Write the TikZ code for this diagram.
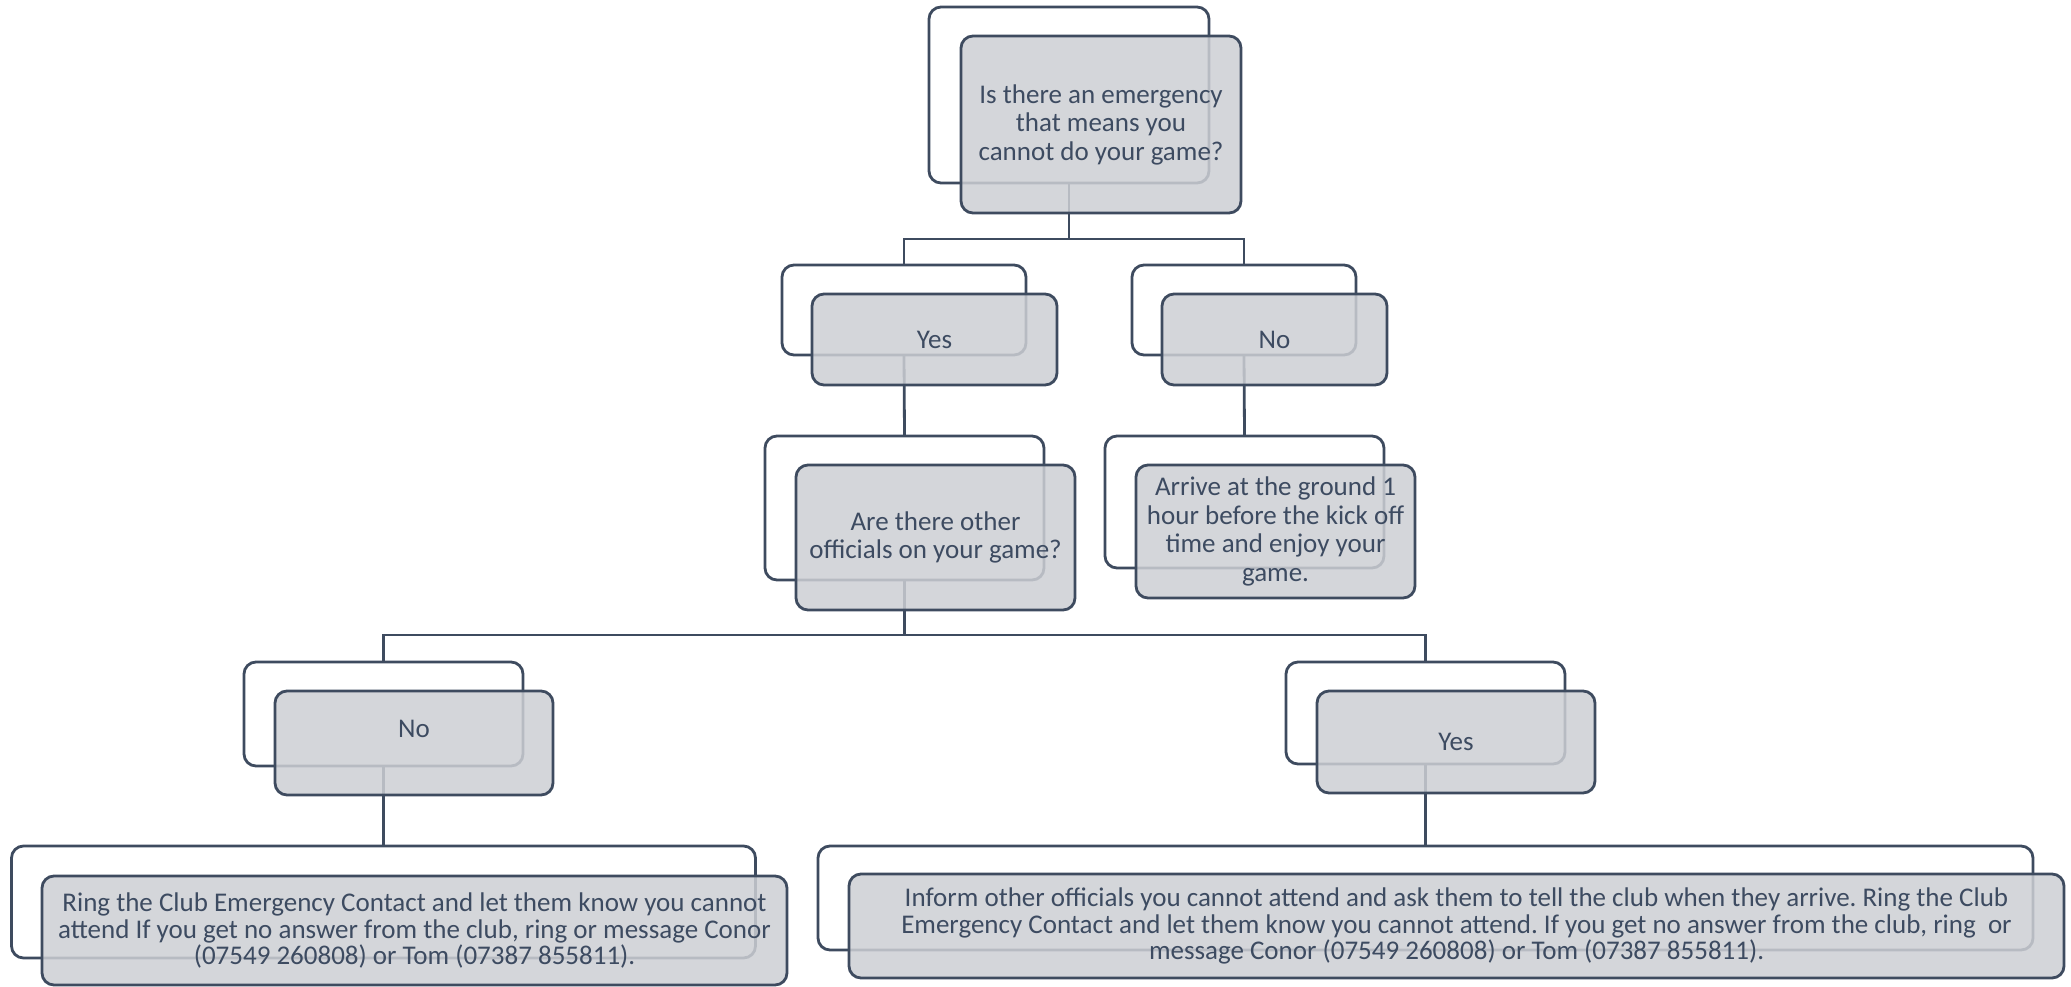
\documentclass[tikz,border=0pt]{standalone}
\usepackage{fontspec}
\setmainfont{Carlito}
\frenchspacing
\definecolor{ln}{HTML}{3E4B5F}
\definecolor{txt}{HTML}{3D4B61}
\definecolor{gf}{RGB}{205,207,212}
\tikzset{
  obox/.style={rectangle, draw=ln, line width=2.8pt, fill=white, rounded corners=12pt, inner sep=0pt, outer sep=0pt},
  gbox/.style={rectangle, draw=ln, line width=2.8pt, fill=gf, fill opacity=0.85, rounded corners=12pt, inner sep=0pt, outer sep=0pt},
  lbl/.style={text=txt, align=center, inner sep=0pt, font=\fontsize{27}{28.5}\selectfont},
  lblsm/.style={lbl, font=\fontsize{27}{26.5}\selectfont},
  conn/.style={draw=ln, line width=2.8pt}
}
\begin{document}
\begin{tikzpicture}[x=1pt,y=-1pt]
\useasboundingbox (0,0) rectangle (2071,986);
% outline boxes
\node[obox, minimum width=280pt, minimum height=176pt] (o1) at (1069,95) {};
\node[obox, minimum width=244pt, minimum height=90pt] (o2y) at (904,310) {};
\node[obox, minimum width=224pt, minimum height=90pt] (o2n) at (1244,310) {};
\node[obox, minimum width=279pt, minimum height=144pt] (o3a) at (904.5,508) {};
\node[obox, minimum width=279pt, minimum height=132pt] (o3b) at (1244.5,502) {};
\node[obox, minimum width=279pt, minimum height=104pt] (o4n) at (383.5,714) {};
\node[obox, minimum width=279pt, minimum height=102pt] (o4y) at (1425.5,713) {};
\node[obox, minimum width=744pt, minimum height=112pt] (o5l) at (383.5,902) {};
\node[obox, minimum width=1215pt, minimum height=104pt] (o5r) at (1425.5,898) {};
% connectors
\coordinate (b1) at (1069,239);
\coordinate (b2) at (904.5,635);
\draw[conn] (o1.south) -- (b1) -| (o2y.north);
\draw[conn] (b1) -| (o2n.north);
\draw[conn] (o2y.south) -- (o3a.north);
\draw[conn] (o2n.south) -- (o3b.north);
\draw[conn] (o3a.south) -- (b2) -| (o4n.north);
\draw[conn] (b2) -| (o4y.north);
\draw[conn] (o4n.south) -- (o5l.north);
\draw[conn] (o4y.south) -- (o5r.north);
% grey boxes
\node[gbox, minimum width=280pt, minimum height=177pt] (g1) at (1101,124.5) {};
\node[gbox, minimum width=245pt, minimum height=91pt] (g2y) at (934.5,339.5) {};
\node[gbox, minimum width=225pt, minimum height=91pt] (g2n) at (1274.5,339.5) {};
\node[gbox, minimum width=279pt, minimum height=145pt] (g3a) at (935.5,537.5) {};
\node[gbox, minimum width=279pt, minimum height=133pt] (g3b) at (1275.5,531.5) {};
\node[gbox, minimum width=278pt, minimum height=104pt] (g4n) at (414,743) {};
\node[gbox, minimum width=278pt, minimum height=102pt] (g4y) at (1456,742) {};
\node[gbox, minimum width=745pt, minimum height=109pt] (g5l) at (414.5,930.5) {};
\node[gbox, minimum width=1215pt, minimum height=104pt] (g5r) at (1456.5,926) {};
% texts
\node[lbl] (t1) at (g1) {Is there an emergency\\that means you\\cannot do your game?};
\node[lbl] (t2y) at (g2y) {Yes};
\node[lbl] (t2n) at (g2n) {No};
\node[lbl] (t3a) at (g3a) {Are there other\\officials on your game?};
\node[lbl] (t3b) at (g3b) {Arrive at the ground 1\\hour before the kick off\\time and enjoy your\\game.};
\node[lbl] (t4n) at (414,729) {No};
\node[lbl] (t4y) at (g4y) {Yes};
\node[lblsm] (t5l) at (g5l) {Ring the Club Emergency Contact and let them know you cannot\\attend If you get no answer from the club, ring or message Conor\\(07549 260808) or Tom (07387 855811).};
\node[lblsm] (t5r) at (g5r) {Inform other officials you cannot attend and ask them to tell the club when they arrive. Ring the Club\\Emergency Contact and let them know you cannot attend. If you get no answer from the club, ring~ or\\message Conor (07549 260808) or Tom (07387 855811).};
\end{tikzpicture}
\end{document}
